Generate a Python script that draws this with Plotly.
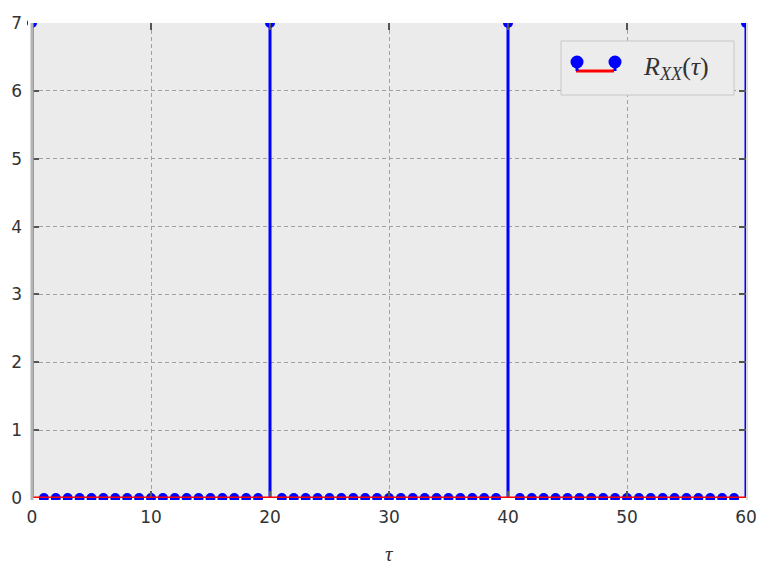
import plotly.graph_objects as go

# Data
tau = list(range(0, 61))
rxx = [7.0 if t % 20 == 0 else 0.0 for t in tau]
baseline = 0.0
x_ticks = [0, 10, 20, 30, 40, 50, 60]
y_ticks = [0, 1, 2, 3, 4, 5, 6, 7]

# stems
sx, sy = [], []
for t, v in zip(tau, rxx):
    sx += [t, t, None]
    sy += [baseline, v, None]

fig = go.Figure()
fig.add_trace(go.Scatter(x=tau, y=rxx, mode="markers",
                         marker=dict(color="#0000ff", size=10, line=dict(width=0)),
                         showlegend=False, cliponaxis=False))
fig.add_trace(go.Scatter(x=sx, y=sy, mode="lines",
                         line=dict(color="#0000ff", width=3), showlegend=False,
                         hoverinfo="skip"))

W, H = 763, 567
L, R, T, B = 32, 17, 23, 69
pw, ph = W - L - R, H - T - B

def px(x):
    return (x - L) / pw

def py(y):
    return (H - B - y) / ph

shapes = []
# clip marks outside plot area (thin strips)
shapes.append(dict(type="rect", xref="paper", yref="paper", x0=px(28), x1=px(752), y0=py(500), y1=py(504),
                   fillcolor="white", line=dict(width=0), layer="above"))
shapes.append(dict(type="rect", xref="paper", yref="paper", x0=px(28), x1=px(752), y0=1, y1=py(17),
                   fillcolor="white", line=dict(width=0), layer="above"))
shapes.append(dict(type="rect", xref="paper", yref="paper", x0=px(28), x1=0, y0=py(500), y1=1,
                   fillcolor="white", line=dict(width=0), layer="above"))
shapes.append(dict(type="rect", xref="paper", yref="paper", x0=1, x1=px(752), y0=py(500), y1=1,
                   fillcolor="white", line=dict(width=0), layer="above"))
# stem baseline (data coordinates)
shapes.append(dict(type="line", xref="x", yref="y", x0=tau[0], x1=tau[-1], y0=baseline, y1=baseline,
                   line=dict(color="#ff0000", width=3), layer="above"))
# spines
shapes.append(dict(type="line", xref="paper", yref="paper", x0=0, x1=0, y0=py(500), y1=1,
                   line=dict(color="#b4b4b4", width=3), layer="above"))
shapes.append(dict(type="line", xref="paper", yref="paper", x0=px(747), x1=px(747), y0=py(500), y1=1,
                   line=dict(color="#b4b4b4", width=1), layer="above"))
# legend box
shapes.append(dict(type="rect", xref="paper", yref="paper",
                   x0=px(561), x1=px(734), y0=py(95), y1=py(41),
                   line=dict(color="#c8c8c8", width=1), fillcolor="#ececec", layer="above"))
shapes.append(dict(type="line", xref="paper", yref="paper",
                   x0=px(576), x1=px(614), y0=py(71), y1=py(71),
                   line=dict(color="#ff0000", width=3), layer="above"))
for cx in (577, 615):
    shapes.append(dict(type="line", xref="paper", yref="paper",
                       x0=px(cx), x1=px(cx), y0=py(71), y1=py(62),
                       line=dict(color="#0000ff", width=3), layer="above"))
    shapes.append(dict(type="circle", xref="paper", yref="paper",
                       xsizemode="pixel", ysizemode="pixel",
                       xanchor=px(cx), yanchor=py(62),
                       x0=-6.5, x1=6.5, y0=-6.5, y1=6.5,
                       fillcolor="#0000ff", line=dict(width=0), layer="above"))

annotations = [
    dict(xref="paper", yref="paper", x=px(641), y=py(68), xanchor="left", yanchor="middle",
         text="<i>R</i><sub><i>XX</i></sub>(<i>τ</i>)", showarrow=False,
         font=dict(family="Liberation Serif", size=26, color="#333333")),
    dict(xref="paper", yref="paper", x=px(389), y=py(554), xanchor="center", yanchor="middle",
         text="<i>τ</i>", showarrow=False,
         font=dict(family="Liberation Serif", size=21, color="#333333")),
]

fig.update_layout(
    width=W, height=H,
    margin=dict(l=L, r=R, t=T, b=B, autoexpand=False),
    paper_bgcolor="white", plot_bgcolor="#ebebeb",
    shapes=shapes, annotations=annotations,
    font=dict(family="DejaVu Sans", size=17, color="#333333"),
    xaxis=dict(range=[0, 60], tickvals=x_ticks, showgrid=True, gridcolor="#a0a0a0",
               griddash="4px,3px", gridwidth=1, zeroline=False, showline=False,
               ticks="inside", ticklen=7, tickwidth=1.5, tickcolor="#555555", mirror="ticks",
               automargin=False, ticklabelstandoff=7),
    yaxis=dict(range=[0, 7], tickvals=y_ticks, showgrid=True, gridcolor="#a0a0a0",
               griddash="4px,3px", gridwidth=1, zeroline=False, showline=False,
               ticks="inside", ticklen=7, tickwidth=1.5, tickcolor="#555555", mirror="ticks",
               automargin=False, ticklabelstandoff=9),
)

fig.write_html("out.html")
